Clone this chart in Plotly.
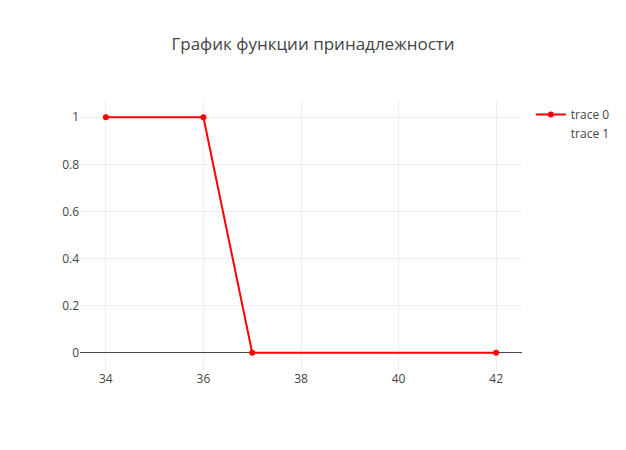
import plotly.graph_objects as go

x_values = [34, 36, 37, 42]
y_values = [1, 1, 0, 0]
trace1_x = [36]
trace1_y = [0.5]
title_text = "График функции принадлежности"

fig = go.Figure()
fig.add_trace(go.Scatter(x=x_values, y=y_values, mode="lines+markers", name="trace 0",
                         line=dict(color="red", width=2), marker=dict(color="red", size=6)))
fig.add_trace(go.Scatter(x=trace1_x, y=trace1_y, mode="none", name="trace 1", hoverinfo="skip"))

fig.update_layout(
    template="none",
    width=626, height=450,
    title=dict(text=title_text, x=0.5),
    font=dict(family="Open Sans", color="#444"),
    showlegend=True,
    margin=dict(l=80, r=104, t=100, b=80, autoexpand=False),
)
fig.write_html("out.html")
